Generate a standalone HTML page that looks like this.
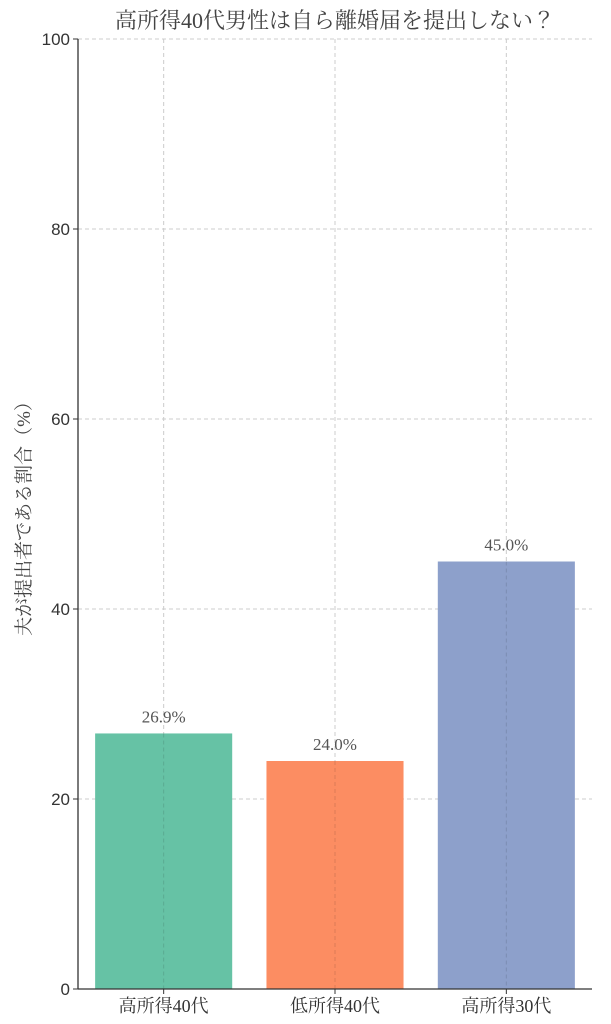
<!DOCTYPE html>
<html><head><meta charset="utf-8"><style>
body{margin:0;background:#fff;}
svg{display:block;font-family:"Liberation Serif","Noto Serif CJK JP",serif;}
</style></head><body>
<svg id="chart" width="611" height="1024" viewBox="0 0 611 1024">
<text x="335" y="28" text-anchor="middle" font-size="22" fill="#444">高所得40代男性は自ら離婚届を提出しない？</text>
<text transform="translate(30,514) rotate(-90)" text-anchor="middle" font-size="19" fill="#444">夫が提出者である割合（%）</text>
<g id="grid"></g><g id="bars"></g><g id="axes"></g>
</svg>
<script>
const categories=["高所得40代","低所得40代","高所得30代"];
const values=[26.9,24.0,45.0];
const colors=["#66c2a5","#fc8d62","#8da0cb"];
const yTicks=[0,20,40,60,80,100];
const NS="http://www.w3.org/2000/svg";
const L=78,R=592,T=39,B=989;
const y=v=>B-(v/100)*(B-T);
const step=(R-L)/categories.length;
const xc=i=>L+step*(i+0.5);
const bw=step*0.8;
function mk(tag,attrs,parent,text){const e=document.createElementNS(NS,tag);for(const k in attrs)e.setAttribute(k,attrs[k]);if(text!==undefined)e.textContent=text;document.getElementById(parent).appendChild(e);return e;}
yTicks.forEach(t=>{
 const g=mk("line",{x1:L,x2:R,y1:y(t),y2:y(t),stroke:"#ccc","stroke-dasharray":"4,3","stroke-width":1},"grid");
 
 
 const tk=mk("line",{x1:L-5,x2:L,y1:y(t),y2:y(t),stroke:"#333"},"axes");
 
 
 const lb=mk("text",{x:L-8,y:y(t)+6,"text-anchor":"end","font-size":17,fill:"#333","font-family":"Liberation Sans, sans-serif"},"axes",String(t));
 
 
});
categories.forEach((c,i)=>{
 const g=mk("line",{x1:xc(i),x2:xc(i),y1:T,y2:B,stroke:"#ccc","stroke-dasharray":"4,3"},"grid");
 
 
 const r=mk("rect",{x:xc(i)-bw/2,y:y(values[i]),width:bw,height:B-y(values[i]),fill:colors[i]},"bars");
 
 
 const gl=mk("line",{x1:xc(i),x2:xc(i),y1:y(values[i]),y2:B,stroke:"#000","stroke-opacity":0.12,"stroke-dasharray":"4,3"},"bars");
 
 
 const v=mk("text",{x:xc(i),y:y(values[i])-11,"text-anchor":"middle","font-size":17,fill:"#555"},"bars",values[i].toFixed(1)+"%");
 
 
 const tk=mk("line",{x1:xc(i),x2:xc(i),y1:B,y2:B+5,stroke:"#333"},"axes");
 
 
 const lb=mk("text",{x:xc(i),y:B+23,"text-anchor":"middle","font-size":18,fill:"#333"},"axes",c);
 
 
});
const ya=mk("line",{x1:L,x2:L,y1:T,y2:B,stroke:"#333","stroke-width":1.3},"axes");


const xa=mk("line",{x1:L,x2:R,y1:B,y2:B,stroke:"#333","stroke-width":1.3},"axes");


</script>
</body></html>
